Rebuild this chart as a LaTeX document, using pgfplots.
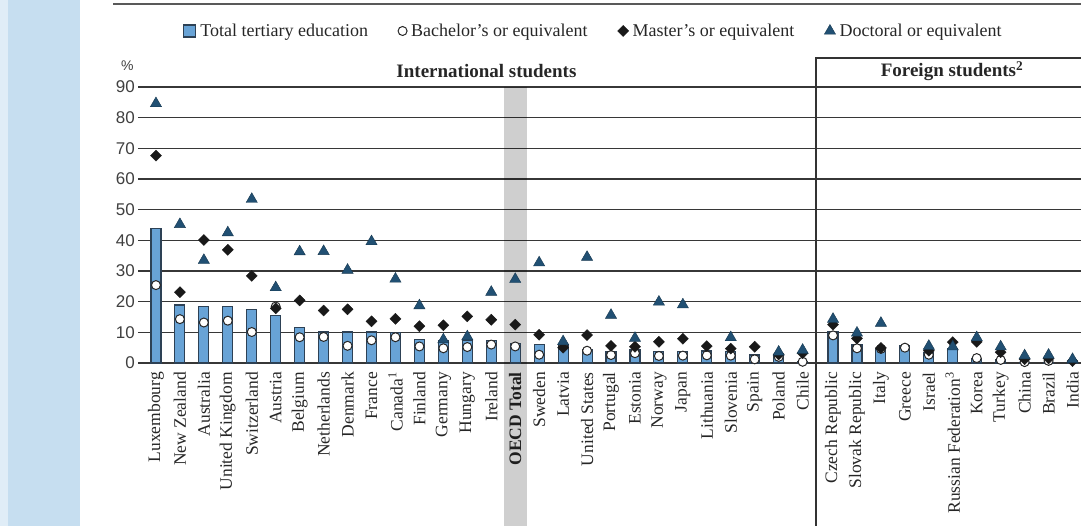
\documentclass[border=0pt]{standalone}
\usepackage{fontspec}
\setmainfont{Liberation Serif}
\newfontfamily\numfont{Liberation Sans}
\usepackage{pgfplots}
\usepackage{pgfplotstable}
\pgfplotsset{compat=1.18}

\definecolor{barfill}{RGB}{104,163,214}
\definecolor{baredge}{RGB}{45,65,85}
\definecolor{doctri}{RGB}{33,80,115}
\definecolor{gridc}{RGB}{55,55,55}
\definecolor{side}{RGB}{198,222,240}
\definecolor{sidelight}{RGB}{224,237,247}

% share of international / foreign students, by level (%)
\pgfplotstableread[col sep=comma]{
name,x,tot,bach,mast,doct
Luxembourg,0,43.9,25.4,67.6,84.6
New Zealand,1,18.9,14.3,23.1,45.2
Australia,2,18.4,13.2,40.1,33.5
United Kingdom,3,18.4,13.8,36.9,42.5
Switzerland,4,17.5,10.1,28.4,53.4
Austria,5,15.6,18.4,17.8,24.6
Belgium,6,11.5,8.4,20.4,36.3
Netherlands,7,10.1,8.5,17.1,36.4
Denmark,8,10.1,5.6,17.5,30.3
France,9,10.1,7.4,13.6,39.6
Canada\textsuperscript{1},10,9.9,8.4,14.4,27.4
Finland,11,7.6,5.4,12.0,18.7
Germany,12,7.4,4.8,12.3,7.6
Hungary,13,7.3,5.2,15.2,8.6
Ireland,14,7.3,6.0,14.1,23.1
\textbf{OECD Total},15,6.3,5.4,12.5,27.3
Sweden,16,6.1,2.7,9.2,32.7
Latvia,17,6.0,5.5,5.0,7.0
United States,18,4.3,4.0,9.1,34.5
Portugal,19,3.8,2.6,5.6,15.6
Estonia,20,4.3,3.2,5.3,8.1
Norway,21,3.8,2.3,6.9,19.9
Japan,22,3.8,2.4,7.9,19.0
Lithuania,23,3.9,2.5,5.5,nan
Slovenia,24,3.8,2.4,4.7,8.3
Spain,25,2.6,1.2,5.3,nan
Poland,26,2.3,2.0,2.8,3.6
Chile,27,0.4,0.4,3.2,4.2
Czech Republic,28.27,10.2,9.0,12.5,14.3
Slovak Republic,29.27,5.9,4.8,8.0,9.8
Italy,30.27,4.8,4.6,4.9,13.0
Greece,31.27,5.6,5.0,nan,nan
Israel,32.27,3.5,2.7,4.0,5.5
Russian Federation\textsuperscript{3},33.27,4.8,nan,6.8,5.3
Korea,34.27,1.5,1.6,6.9,8.3
Turkey,35.27,1.0,1.0,3.5,5.3
China,36.27,0.3,0.3,1.2,2.4
Brazil,37.27,0.3,0.7,1.5,2.6
India,38.27,0.3,nan,0.6,1.2
}\shares

\begin{document}
\begin{tikzpicture}
\useasboundingbox (0,0) rectangle (1081pt,526pt);
\fill[sidelight] (0,0) rectangle (8pt,526pt);
\fill[side] (8pt,0) rectangle (80pt,526pt);
\draw[line width=2.5pt, black!65] (113pt,522pt) -- (1081pt,522pt);

\begin{axis}[
  at={(138pt,163pt)}, anchor=south west,
  scale only axis, width=942.9pt, height=306.7pt,
  xmin=-0.75, xmax=38.62, ymin=0, ymax=100,
  clip=false,
  axis line style={draw=none},
  xtick={0,1,...,27,28.27,29.27,30.27,31.27,32.27,33.27,34.27,35.27,36.27,37.27,38.27},
  xticklabels from table={\shares}{name},
  xtick style={draw=none},
  x tick label style={rotate=90, anchor=east, inner sep=0pt, xshift=-9pt, text=black!85,
    font=\fontsize{17.5}{18}\selectfont},
  ytick={0,10,...,90},
  ytick style={draw=none},
  y tick label style={anchor=east, inner sep=0pt, xshift=-3pt, text=black!75,
    font=\numfont\fontsize{17}{17}\selectfont},
  /pgf/number format/assume math mode=true,
  ymajorgrids,
  major grid style={line width=1.4pt, gridc},
  legend columns=4,
  legend cell align=left,
  legend style={draw=none, fill=none, at={(0.483,1.0825)}, anchor=center,
    font=\fontsize{18}{20}\selectfont, text=black!85,
    /tikz/every odd column/.append style={column sep=2pt},
    /tikz/every even column/.append style={column sep=28pt}},
]
\fill[black, fill opacity=0.19] (axis cs:14.52,90) rectangle (axis cs:15.48,-54);
\draw[line width=1.5pt, black!80] (axis cs:27.56,-55) -- (axis cs:27.56,99.5) -- (axis cs:39.5,99.5);

\addplot[ybar, bar width=10pt, fill=barfill, draw=baredge, line width=1.1pt,
  legend image code/.code={\draw[fill=barfill, draw=baredge, line width=1.1pt] (0pt,-6pt) rectangle (12pt,6pt);}]
  table[x=x, y=tot]{\shares};
\addplot[only marks, mark=*, mark size=4.5pt,
  mark options={fill=white, draw=black!85, line width=1pt}]
  table[x=x, y=bach]{\shares};
\addplot[only marks, mark=square*, mark size=3.9pt,
  mark options={rotate=45, fill=black!90, draw=black!90}]
  table[x=x, y=mast]{\shares};
\addplot[only marks, mark=triangle*, mark size=6.5pt,
  mark options={fill=doctri, draw=doctri!70!black}]
  table[x=x, y=doct]{\shares};
\legend{Total tertiary education, Bachelor's or equivalent, Master's or equivalent, Doctoral or equivalent}

\node[font=\bfseries\fontsize{19}{20}\selectfont, text=black!85] at (axis cs:13.8,95.2) {International students};
\node[font=\bfseries\fontsize{19}{20}\selectfont, text=black!85] at (axis cs:33.24,95.2) {Foreign students\textsuperscript{2}};
\node[font=\numfont\fontsize{14}{14}\selectfont, text=black!75] at (axis cs:-1.2,96.8) {\%};
\end{axis}
\end{tikzpicture}
\end{document}
